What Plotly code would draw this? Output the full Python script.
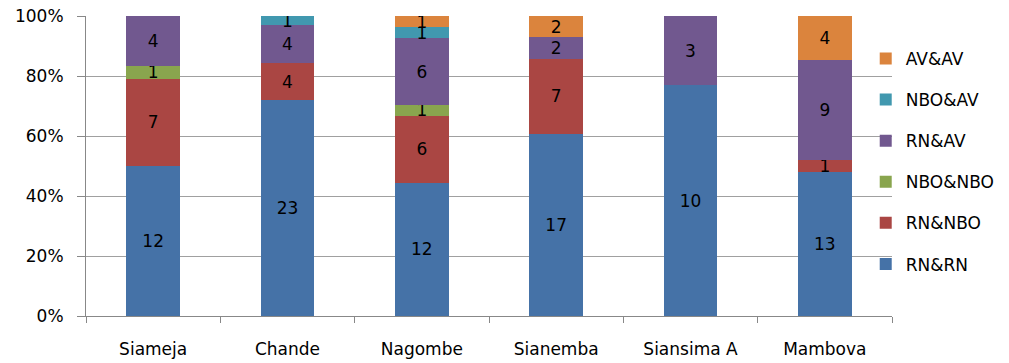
import plotly.graph_objects as go

sites = ["Siameja", "Chande", "Nagombe", "Sianemba", "Siansima A", "Mambova"]

rn_rn = [12, 23, 12, 17, 10, 13]
rn_nbo = [7, 4, 6, 7, 0, 1]
nbo_nbo = [1, 0, 1, 0, 0, 0]
rn_av = [4, 4, 6, 2, 3, 9]
nbo_av = [0, 1, 1, 0, 0, 0]
av_av = [0, 0, 1, 2, 0, 4]

series = [
    ("RN&RN", rn_rn, "#4572A7"),
    ("RN&NBO", rn_nbo, "#AA4643"),
    ("NBO&NBO", nbo_nbo, "#89A54E"),
    ("RN&AV", rn_av, "#71588F"),
    ("NBO&AV", nbo_av, "#4198AF"),
    ("AV&AV", av_av, "#DB843D"),
]

FONT = "DejaVu Sans"
FS = 17

fig = go.Figure()
for i, (name, vals, color) in enumerate(series):
    fig.add_trace(go.Bar(
        x=sites,
        y=vals,
        name=name,
        legendgroup=name,
        legendrank=100 - i,
        marker=dict(color=color, line=dict(width=0)),
        text=[str(v) if v else "" for v in vals],
        textposition="inside",
        insidetextanchor="middle",
        constraintext="none",
        textfont=dict(family=FONT, size=FS, color="black"),
        textangle=0,
        hoverinfo="skip",
    ))

fig.update_layout(
    barmode="stack",
    barnorm="percent",
    bargap=0.6,
    width=1009,
    height=363,
    margin=dict(l=86, r=117, t=16, b=47, autoexpand=False),
    paper_bgcolor="white",
    plot_bgcolor="white",
    font=dict(family=FONT, size=FS, color="black"),
    uniformtext=dict(minsize=FS, mode="show"),
    showlegend=True,
    legend=dict(
        x=0.858, xanchor="left",
        y=0.917, yanchor="top",
        xref="container",
        traceorder="grouped",
        tracegroupgap=16,
        font=dict(family=FONT, size=FS, color="black"),
        bgcolor="rgba(0,0,0,0)",
    ),
)

fig.update_yaxes(
    range=[0, 100],
    tickvals=[0, 20, 40, 60, 80, 100],
    ticktext=["0%", "20%", "40%", "60%", "80%", "100%"],
    showgrid=True,
    gridcolor="#A0A0A0",
    gridwidth=1,
    showline=True,
    linecolor="#888888",
    linewidth=1,
    ticks="outside",
    ticklen=8,
    tickcolor="#888888",
    zeroline=False,
    ticklabelstandoff=10,
    automargin=False,
)

fig.update_xaxes(
    showline=True,
    linecolor="#888888",
    linewidth=1,
    ticks="outside",
    ticklen=6,
    tickcolor="#888888",
    tickson="boundaries",
    ticklabelstandoff=18,
    automargin=False,
)

fig.write_html("out.html")
